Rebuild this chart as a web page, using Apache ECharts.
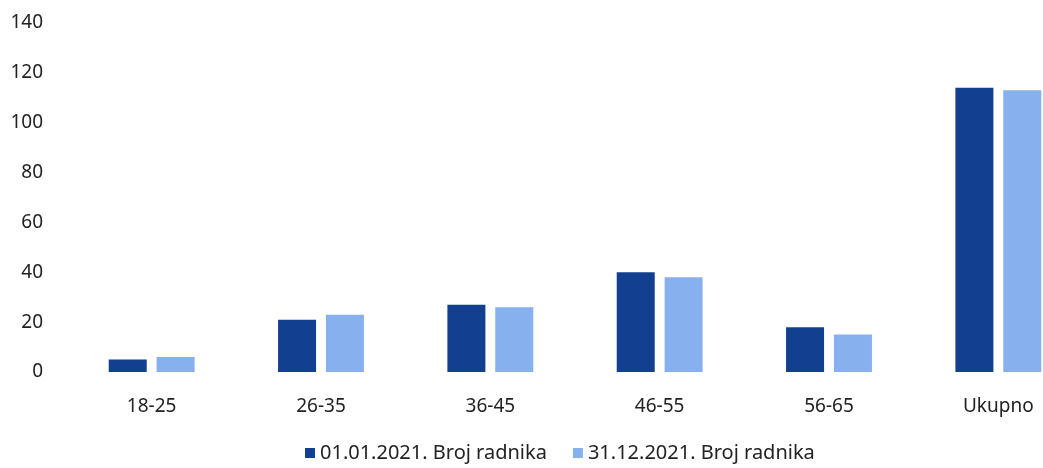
<!DOCTYPE html>
<html lang="hr">
<head>
    <meta charset="UTF-8">
    <title>Broj radnika po dobi</title>
    <script src="https://cdn.jsdelivr.net/npm/echarts@6/dist/echarts.min.js"></script>
</head>
<body style="margin:0;background:#fff">

<div id="main" style="width: 1043px;height: 468px"></div>

<script type="text/javascript">
    // podaci
    var categories = ['18-25', '26-35', '36-45', '46-55', '56-65', 'Ukupno'];
    var start2021 = [5, 21, 27, 40, 18, 114];
    var end2021 = [6, 23, 26, 38, 15, 113];
    var seriesNames = ['01.01.2021. Broj radnika', '31.12.2021. Broj radnika'];

    var myChart = echarts.init(document.getElementById('main'));

    option = {
        animation: false,
        textStyle: {fontFamily: 'Noto Sans', color: '#222'},
        legend: {
            bottom: 0,
            left: 300,
            itemWidth: 10,
            itemHeight: 10,
            itemGap: 26,
            icon: 'rect',
            textStyle: {fontFamily: 'Noto Sans', fontSize: 20, color: '#222'},
            data: seriesNames
        },
        grid: {
            left: 67,
            width: 1016,   // desna kategorija je odrezana kao na originalu
            top: 23,
            bottom: 96,
            outerBoundsMode: 'none',
            containLabel: false
        },
        xAxis: {
            type: 'category',
            data: categories,
            axisLine: {show: false},
            axisTick: {show: false},
            axisLabel: {fontSize: 19, color: '#222', margin: 25}
        },
        yAxis: {
            type: 'value',
            min: 0,
            max: 140,
            interval: 20,
            splitLine: {show: false},
            axisLine: {show: false},
            axisTick: {show: false},
            axisLabel: {fontSize: 19, color: '#222', margin: 24}
        },
        series: [
            {
                name: seriesNames[0],
                type: 'bar',
                barWidth: 38,
                barGap: '26%',
                itemStyle: {color: '#133f91'},
                data: start2021
            },
            {
                name: seriesNames[1],
                type: 'bar',
                barWidth: 38,
                itemStyle: {color: '#86b1ee'},
                data: end2021
            }
        ]
    };
    myChart.setOption(option);
</script>
</body>
</html>
